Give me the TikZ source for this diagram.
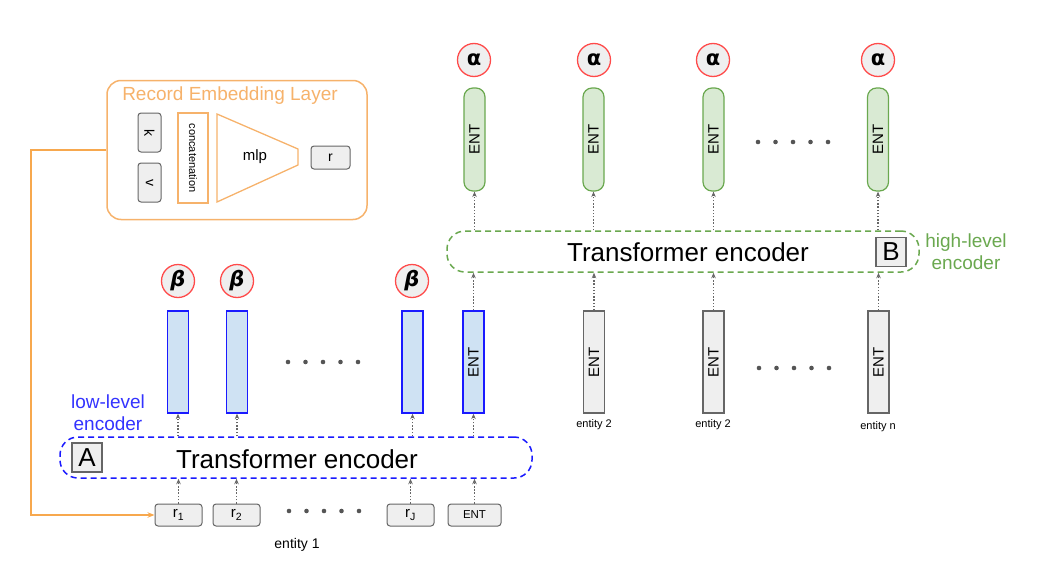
\documentclass[tikz,border=0pt]{standalone}
\usepackage{fontspec}
\setmainfont{Liberation Sans}
\newfontfamily\greekfont{DejaVu Sans}
\usetikzlibrary{arrows.meta}
\definecolor{orng}{HTML}{F6B26B}
\definecolor{orngline}{HTML}{F7A84E}
\definecolor{bluefill}{HTML}{CFE2F3}
\definecolor{blueline}{HTML}{1A1AFF}
\definecolor{greenfill}{HTML}{D9EAD3}
\definecolor{greenline}{HTML}{6AA84F}
\definecolor{grayfill}{HTML}{EFEFEF}
\definecolor{grayline}{HTML}{666666}
\definecolor{redline}{HTML}{FF4A4A}
\definecolor{bluetext}{HTML}{3333FF}
\definecolor{dotc}{HTML}{555555}
\begin{document}
\begin{tikzpicture}[x=1pt,y=-1pt,
  fs/.style={font={\fontsize{#1}{#1}\selectfont}},
  gbox/.style={draw=grayline,fill=grayfill,rounded corners=3pt,line width=1pt,inner sep=0pt},
  bluebar/.style={draw=blueline,fill=bluefill,line width=1.3pt,minimum width=21pt,minimum height=102pt,inner sep=0pt},
  graybar/.style={draw=grayline,fill=grayfill,line width=1.2pt,minimum width=21pt,minimum height=102pt,inner sep=0pt},
  greenbar/.style={draw=greenline,fill=greenfill,line width=1.2pt,rounded corners=9pt,minimum width=21pt,minimum height=103pt,inner sep=0pt},
  circ/.style={circle,draw=redline,fill=grayfill,line width=1.3pt,minimum size=33pt,inner sep=0pt},
  darr/.style={draw=grayline,line width=1.1pt,dash pattern=on 1.5pt off 1.7pt,-{Stealth[length=5.5pt,width=4.5pt]}},
  enc/.style={line width=1.5pt,dash pattern=on 6pt off 4pt,rounded corners=18pt,minimum width=472pt,minimum height=41pt,inner sep=0pt,fs=26},
  lbox/.style={draw=grayline,fill=grayfill,line width=1.2pt,minimum width=30pt,minimum height=29pt,inner sep=0pt,fs=26},
  ent/.style={rotate=90,fs=15},
  dotsty/.style={fill=dotc}
]
\useasboundingbox (0,0) rectangle (1038,562);

% ---------- Record Embedding Layer ----------
\node[draw=orng,line width=1.5pt,rounded corners=14pt,minimum width=260pt,minimum height=139pt] (emb) at (237,150) {};
\node[text=orng,fs=19] (embt) at (230,96) {Record Embedding Layer};
\node[gbox,minimum width=23pt,minimum height=39pt] (k) at (149.5,132.5) {\rotatebox{-90}{\fontsize{14}{14}\selectfont k}};
\node[gbox,minimum width=23pt,minimum height=39pt] (v) at (149.5,182.5) {\rotatebox{-90}{\fontsize{14}{14}\selectfont v}};
\node[draw=orng,line width=1.3pt,minimum width=30pt,minimum height=90pt,inner sep=0pt] (cat) at (193,158) {};
\node[rotate=-90,fs=11] at (cat.center) {concatenation};
\coordinate (m1) at (217,114);
\coordinate (m2) at (298,149);
\coordinate (m3) at (298,165);
\coordinate (m4) at (217,202);
\draw[orng,line width=1.3pt] (m1) -- (m2) -- (m3) -- (m4) -- cycle;
\node[fs=15] (mlp) at (255,157) {mlp};
\node[gbox,minimum width=39pt,minimum height=23pt,fs=14] (r) at (330.5,157.5) {r};

% ---------- low level ----------
\node[gbox,minimum width=47pt,minimum height=22pt,fs=15] (r1) at (178.5,515) {r\textsubscript{1}};
\node[gbox,minimum width=47pt,minimum height=22pt,fs=15] (r2) at (236.5,515) {r\textsubscript{2}};
\node[gbox,minimum width=47pt,minimum height=22pt,fs=15] (rJ) at (410.5,515) {r\textsubscript{J}};
\node[gbox,minimum width=53pt,minimum height=22pt,fs=11.5] (rE) at (474.5,515) {ENT};
\foreach \i in {0,...,4} \fill[dotsty] (289+\i*17.5,511) circle (2.3);
\node[fs=14] (ent1) at (297,545) {entity 1};

\node[enc,draw=blueline] (encA) at (296,457.5) {};
\node[fs=26] (encAt) at (297,459) {Transformer encoder};
\node[lbox] (A) at (87,457.5) {A};
\node[text=bluetext,fs=19,align=center] (low) at (108,413) {low-level\\[3pt]encoder};

\node[bluebar] (b1) at (178,362) {};
\node[bluebar] (b2) at (237,362) {};
\node[bluebar] (b3) at (412.5,362) {};
\node[bluebar] (bE) at (473.5,362) {};
\node[ent] at (bE.center) {ENT};
\foreach \i in {0,...,4} \fill[dotsty] (288+\i*17.5,362) circle (2.3);

\node[circ] (c1) at (178,281) {\greekfont\bfseries\itshape\fontsize{21}{21}\selectfont β};
\node[circ] (c2) at (237,281) {\greekfont\bfseries\itshape\fontsize{21}{21}\selectfont β};
\node[circ] (c3) at (412,281) {\greekfont\bfseries\itshape\fontsize{21}{21}\selectfont β};

\draw[darr] (r1.north) -- (r1.north |- encA.south);
\draw[darr] (r2.north) -- (r2.north |- encA.south);
\draw[darr] (rJ.north) -- (rJ.north |- encA.south);
\draw[darr] (rE.north) -- (rE.north |- encA.south);
\draw[darr] (encA.north -| b1.south) -- (b1.south);
\draw[darr] (encA.north -| b2.south) -- (b2.south);
\draw[darr] (encA.north -| b3.south) -- (b3.south);
\draw[darr] (encA.north -| bE.south) -- (bE.south);

\draw[orngline,line width=2pt,-{Stealth[length=7pt,width=5.5pt]}] (emb.west) -- ++(-75,0) |- (r1.west);

% ---------- high level ----------
\node[graybar] (e2) at (594,362) {};
\node[graybar] (e3) at (713.5,362) {};
\node[graybar] (en) at (878.5,362) {};
\node[ent] at (e2.center) {ENT};
\node[ent] at (e3.center) {ENT};
\node[ent] at (en.center) {ENT};
\foreach \i in {0,...,4} \fill[dotsty] (759+\i*17.5,368) circle (2.3);
\node[fs=11] (l2) at (594,425) {entity 2};
\node[fs=11] (l3) at (713,425) {entity 2};
\node[fs=11] (ln) at (878,427) {entity n};

\node[enc,draw=greenline] (encB) at (683,251.5) {};
\node[fs=26] (encBt) at (688,252) {Transformer encoder};
\node[lbox] (B) at (891,252) {B};
\node[text=greenline,fs=19,align=center] (high) at (966,252) {high-level\\[3pt]encoder};

\node[greenbar] (g1) at (474.5,139.5) {};
\node[greenbar] (g2) at (593.5,139.5) {};
\node[greenbar] (g3) at (713.5,139.5) {};
\node[greenbar] (g4) at (878,139.5) {};
\node[ent] at (g1.center) {ENT};
\node[ent] at (g2.center) {ENT};
\node[ent] at (g3.center) {ENT};
\node[ent] at (g4.center) {ENT};
\foreach \i in {0,...,4} \fill[dotsty] (758+\i*17.5,142) circle (2.3);

\node[circ] (a1) at (474,60) {\greekfont\bfseries\fontsize{21}{21}\selectfont α};
\node[circ] (a2) at (594,60) {\greekfont\bfseries\fontsize{21}{21}\selectfont α};
\node[circ] (a3) at (713,60) {\greekfont\bfseries\fontsize{21}{21}\selectfont α};
\node[circ] (a4) at (878,60) {\greekfont\bfseries\fontsize{21}{21}\selectfont α};

\draw[darr] (bE.north) -- (bE.north |- encB.south);
\draw[darr] (e2.north) -- (e2.north |- encB.south);
\draw[darr] (e3.north) -- (e3.north |- encB.south);
\draw[darr] (en.north) -- (en.north |- encB.south);
\draw[darr] (encB.north -| g1.south) -- (g1.south);
\draw[darr] (encB.north -| g2.south) -- (g2.south);
\draw[darr] (encB.north -| g3.south) -- (g3.south);
\draw[darr] (encB.north -| g4.south) -- (g4.south);
\end{tikzpicture}
\end{document}
